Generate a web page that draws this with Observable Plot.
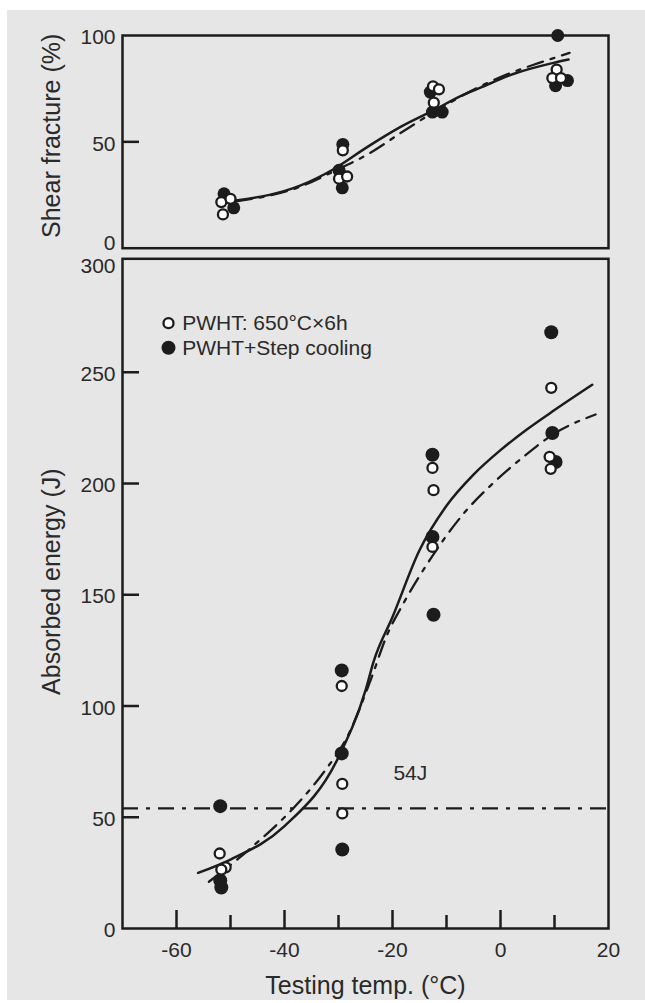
<!DOCTYPE html>
<html><head><meta charset="utf-8">
<script src="https://cdn.jsdelivr.net/npm/d3@7"></script>
<script src="https://cdn.jsdelivr.net/npm/@observablehq/plot@0.6"></script>
<style>
html,body{margin:0;padding:0;background:#fff;width:645px;height:1003px;overflow:hidden;}
#bg{position:absolute;left:7px;top:10px;width:638px;height:990px;background:#e6e6e6;}
#top,#bottom{position:absolute;left:0;}
#top{top:0px}
#bottom{top:250px}
svg{overflow:visible}
</style></head><body>
<div id="bg"></div><div id="top"></div><div id="bottom"></div>
<script>
// ---------- data ----------
const legendLabels = ["PWHT: 650°C×6h", "PWHT+Step cooling"];
const xTickLabels = [-60, -40, -20, 0, 20];
const xMajorTicks = [-60, -40, -20, 0];
const xMinorTicks = [-50, -30, -10, 10];
const shearTicks = [50, 100];
const energyTicks = [0, 50, 100, 150, 200, 250];
const energyInnerTicks = [50, 100, 150, 200, 250];
const threshold = [54];
const thresholdLabel = [{label: "54J", t: -16.7, v: 54}];

// Shear fracture (%) – open = PWHT, filled = PWHT+Step cooling
const shearOpen = [
  {t: -51.7, v: 21.7}, {t: -50.0, v: 23.2}, {t: -51.4, v: 15.9},
  {t: -29.2, v: 46.0}, {t: -29.9, v: 32.7}, {t: -28.4, v: 33.7},
  {t: -12.5, v: 76.1}, {t: -11.4, v: 74.7}, {t: -12.35, v: 68.4},
  {t: 10.4, v: 84.0}, {t: 9.6, v: 80.0}, {t: 11.2, v: 80.0}
];
const shearFilled = [
  {t: -51.2, v: 25.6}, {t: -49.4, v: 19.0},
  {t: -29.2, v: 48.8}, {t: -29.9, v: 36.6}, {t: -29.3, v: 28.4},
  {t: -13.0, v: 73.4}, {t: -12.6, v: 64.0}, {t: -10.8, v: 64.0},
  {t: 10.6, v: 100.0}, {t: 10.2, v: 76.4}, {t: 12.4, v: 78.8}
];
const shearSolidCurve = [
  {t: -49, v: 22.4}, {t: -37, v: 29.5}, {t: -31, v: 37.0}, {t: -24.7, v: 47.5},
  {t: -18.5, v: 57.0}, {t: -12.4, v: 64.8}, {t: -7.4, v: 71.5}, {t: -3.7, v: 75.5},
  {t: 2.5, v: 82.0}, {t: 9.6, v: 87.0}, {t: 12.6, v: 88.7}
];
const shearDashCurve = [
  {t: -49, v: 22.0}, {t: -37, v: 29.0}, {t: -31, v: 36.0}, {t: -24, v: 45.0},
  {t: -18, v: 55.0}, {t: -12, v: 64.5}, {t: -5, v: 74.5}, {t: 1, v: 81.5},
  {t: 7, v: 87.0}, {t: 12.8, v: 91.8}
];

// Absorbed energy (J)
const energyOpen = [
  {t: -52.0, v: 33.7}, {t: -50.9, v: 27.5}, {t: -51.7, v: 26.5},
  {t: -29.4, v: 109}, {t: -29.3, v: 65}, {t: -29.3, v: 51.7},
  {t: -12.6, v: 207}, {t: -12.4, v: 197}, {t: -12.6, v: 171.5},
  {t: 9.4, v: 243}, {t: 9.1, v: 212}, {t: 9.3, v: 206.6}
];
const energyFilled = [
  {t: -51.9, v: 55}, {t: -51.9, v: 21.6}, {t: -51.7, v: 18.4},
  {t: -29.4, v: 116}, {t: -29.4, v: 78.7}, {t: -29.3, v: 35.5},
  {t: -12.6, v: 212.9}, {t: -12.6, v: 176}, {t: -12.4, v: 141},
  {t: 9.4, v: 268}, {t: 9.6, v: 222.7}, {t: 10.2, v: 209.7}
];
const energySolidCurve = [
  {t: -56, v: 25}, {t: -50, v: 31}, {t: -40, v: 46}, {t: -30, v: 77},
  {t: -25, v: 107}, {t: -23.5, v: 120}, {t: -20, v: 140}, {t: -15, v: 170},
  {t: -10, v: 190}, {t: -5, v: 204}, {t: 0, v: 215}, {t: 5, v: 224.5}, {t: 10, v: 233}, {t: 17, v: 244.4}
];
const energyDashCurve = [
  {t: -54, v: 21}, {t: -48.5, v: 31.5}, {t: -45, v: 38.8}, {t: -40, v: 50},
  {t: -36.5, v: 59}, {t: -32.8, v: 70}, {t: -28, v: 88}, {t: -24, v: 112},
  {t: -21, v: 132}, {t: -18, v: 146}, {t: -13, v: 166}, {t: -7, v: 186},
  {t: -1, v: 201}, {t: 4.5, v: 212.5}, {t: 10, v: 222.5}, {t: 17.6, v: 231}
];

// ---------- style ----------
const ink = "#1c1c1c";
const textInk = "#2a2a2a";
const font = "'Liberation Sans', Arial, Helvetica, sans-serif";
const dashDot = "16,8,4,8";
const W = 645, mL = 122, mR = 37;
const innerW = W - mL - mR;

// ---------- top panel ----------
const topH = 260, topMT = 35, topMB = 12.3;
const topPlot = Plot.plot({
  width: W, height: topH, marginLeft: mL, marginRight: mR, marginTop: topMT, marginBottom: topMB,
  style: {background: "transparent", fontFamily: font, fontSize: "21px", color: textInk, overflow: "visible"},
  x: {domain: [-70, 20], axis: null},
  y: {domain: [0, 100]},
  marks: [
    Plot.ruleY([50], {stroke: ink, strokeWidth: 2.5, insetRight: innerW - 17}),
    Plot.axisY(shearTicks, {tickSize: 0, tickPadding: 7, label: null, fontSize: 21, fill: textInk, dy: 2}),
    Plot.axisY([0], {tickSize: 0, tickPadding: 7, label: null, fontSize: 21, fill: textInk, dy: -5}),
    Plot.line(shearDashCurve, {x: "t", y: "v", curve: "monotone-x", stroke: ink, strokeWidth: 2.3, strokeDasharray: dashDot}),
    Plot.line(shearSolidCurve, {x: "t", y: "v", curve: "monotone-x", stroke: ink, strokeWidth: 2.5}),
    Plot.dot(shearFilled, {x: "t", y: "v", r: 6.5, fill: ink, stroke: "none"}),
    Plot.dot(shearOpen, {x: "t", y: "v", r: 5, fill: "white", stroke: ink, strokeWidth: 2.3}),
    Plot.frame({stroke: ink, strokeWidth: 2.5}),
    Plot.text(["Shear fracture (%)"], {frameAnchor: "left", rotate: -90, textAnchor: "middle", lineAnchor: "middle", dx: -71, dy: -6, fontSize: 25, fill: textInk})
  ]
});
document.getElementById("top").appendChild(topPlot);

// ---------- bottom panel ----------
const botH = 753, botMT = 8.3, botMB = 75;
const innerH = botH - botMT - botMB;
const botPlot = Plot.plot({
  width: W, height: botH, marginLeft: mL, marginRight: mR, marginTop: botMT, marginBottom: botMB,
  style: {background: "transparent", fontFamily: font, fontSize: "21px", color: textInk, overflow: "visible"},
  x: {domain: [-70, 20]},
  y: {domain: [0, 301]},
  marks: [
    Plot.ruleY(energyInnerTicks, {stroke: ink, strokeWidth: 2.5, insetRight: innerW - 17}),
    Plot.ruleX(xMajorTicks, {stroke: ink, strokeWidth: 2.5, insetTop: innerH - 18}),
    Plot.ruleX(xMinorTicks, {stroke: ink, strokeWidth: 2.5, insetTop: innerH - 13}),
    Plot.axisY(energyTicks, {tickSize: 0, tickPadding: 7, label: null, fontSize: 21, fill: textInk, dy: 2}),
    Plot.axisY([300], {tickSize: 0, tickPadding: 7, label: null, fontSize: 21, fill: textInk, dy: 5}),
    Plot.axisX(xTickLabels, {tickSize: 0, tickPadding: 14, label: null, fontSize: 21, fill: textInk, tickFormat: d => String(d)}),
    Plot.ruleY(threshold, {stroke: ink, strokeWidth: 2.2, strokeDasharray: dashDot}),
    Plot.text(thresholdLabel, {x: "t", y: "v", text: "label", dy: -35, fontSize: 21, fill: textInk}),
    Plot.line(energyDashCurve, {x: "t", y: "v", curve: "monotone-x", stroke: ink, strokeWidth: 2.3, strokeDasharray: dashDot}),
    Plot.line(energySolidCurve, {x: "t", y: "v", curve: "monotone-x", stroke: ink, strokeWidth: 2.5}),
    Plot.dot(energyFilled, {x: "t", y: "v", r: 7, fill: ink, stroke: "none"}),
    Plot.dot(energyOpen, {x: "t", y: "v", r: 5, fill: "white", stroke: ink, strokeWidth: 2.3}),
    Plot.frame({stroke: ink, strokeWidth: 2.5}),
    // legend
    Plot.dot([legendLabels[0]], {frameAnchor: "top-left", dx: 46, dy: 64.4, r: 5, fill: "white", stroke: ink, strokeWidth: 2.3}),
    Plot.dot([legendLabels[1]], {frameAnchor: "top-left", dx: 46, dy: 89, r: 7, fill: ink, stroke: "none"}),
    Plot.text([legendLabels[0]], {frameAnchor: "top-left", dx: 59.7, dy: 64.4, textAnchor: "start", lineAnchor: "middle", fontSize: 21, fill: textInk}),
    Plot.text([legendLabels[1]], {frameAnchor: "top-left", dx: 59.7, dy: 89, textAnchor: "start", lineAnchor: "middle", fontSize: 21, fill: textInk}),
    // axis titles
    Plot.text(["Absorbed energy (J)"], {frameAnchor: "left", rotate: -90, textAnchor: "middle", lineAnchor: "middle", dx: -71, dy: -12, fontSize: 25, fill: textInk}),
    Plot.text(["Testing temp. (°C)"], {frameAnchor: "bottom", lineAnchor: "middle", dy: 57, fontSize: 25, fill: textInk})
  ]
});
document.getElementById("bottom").appendChild(botPlot);
</script></body></html>
